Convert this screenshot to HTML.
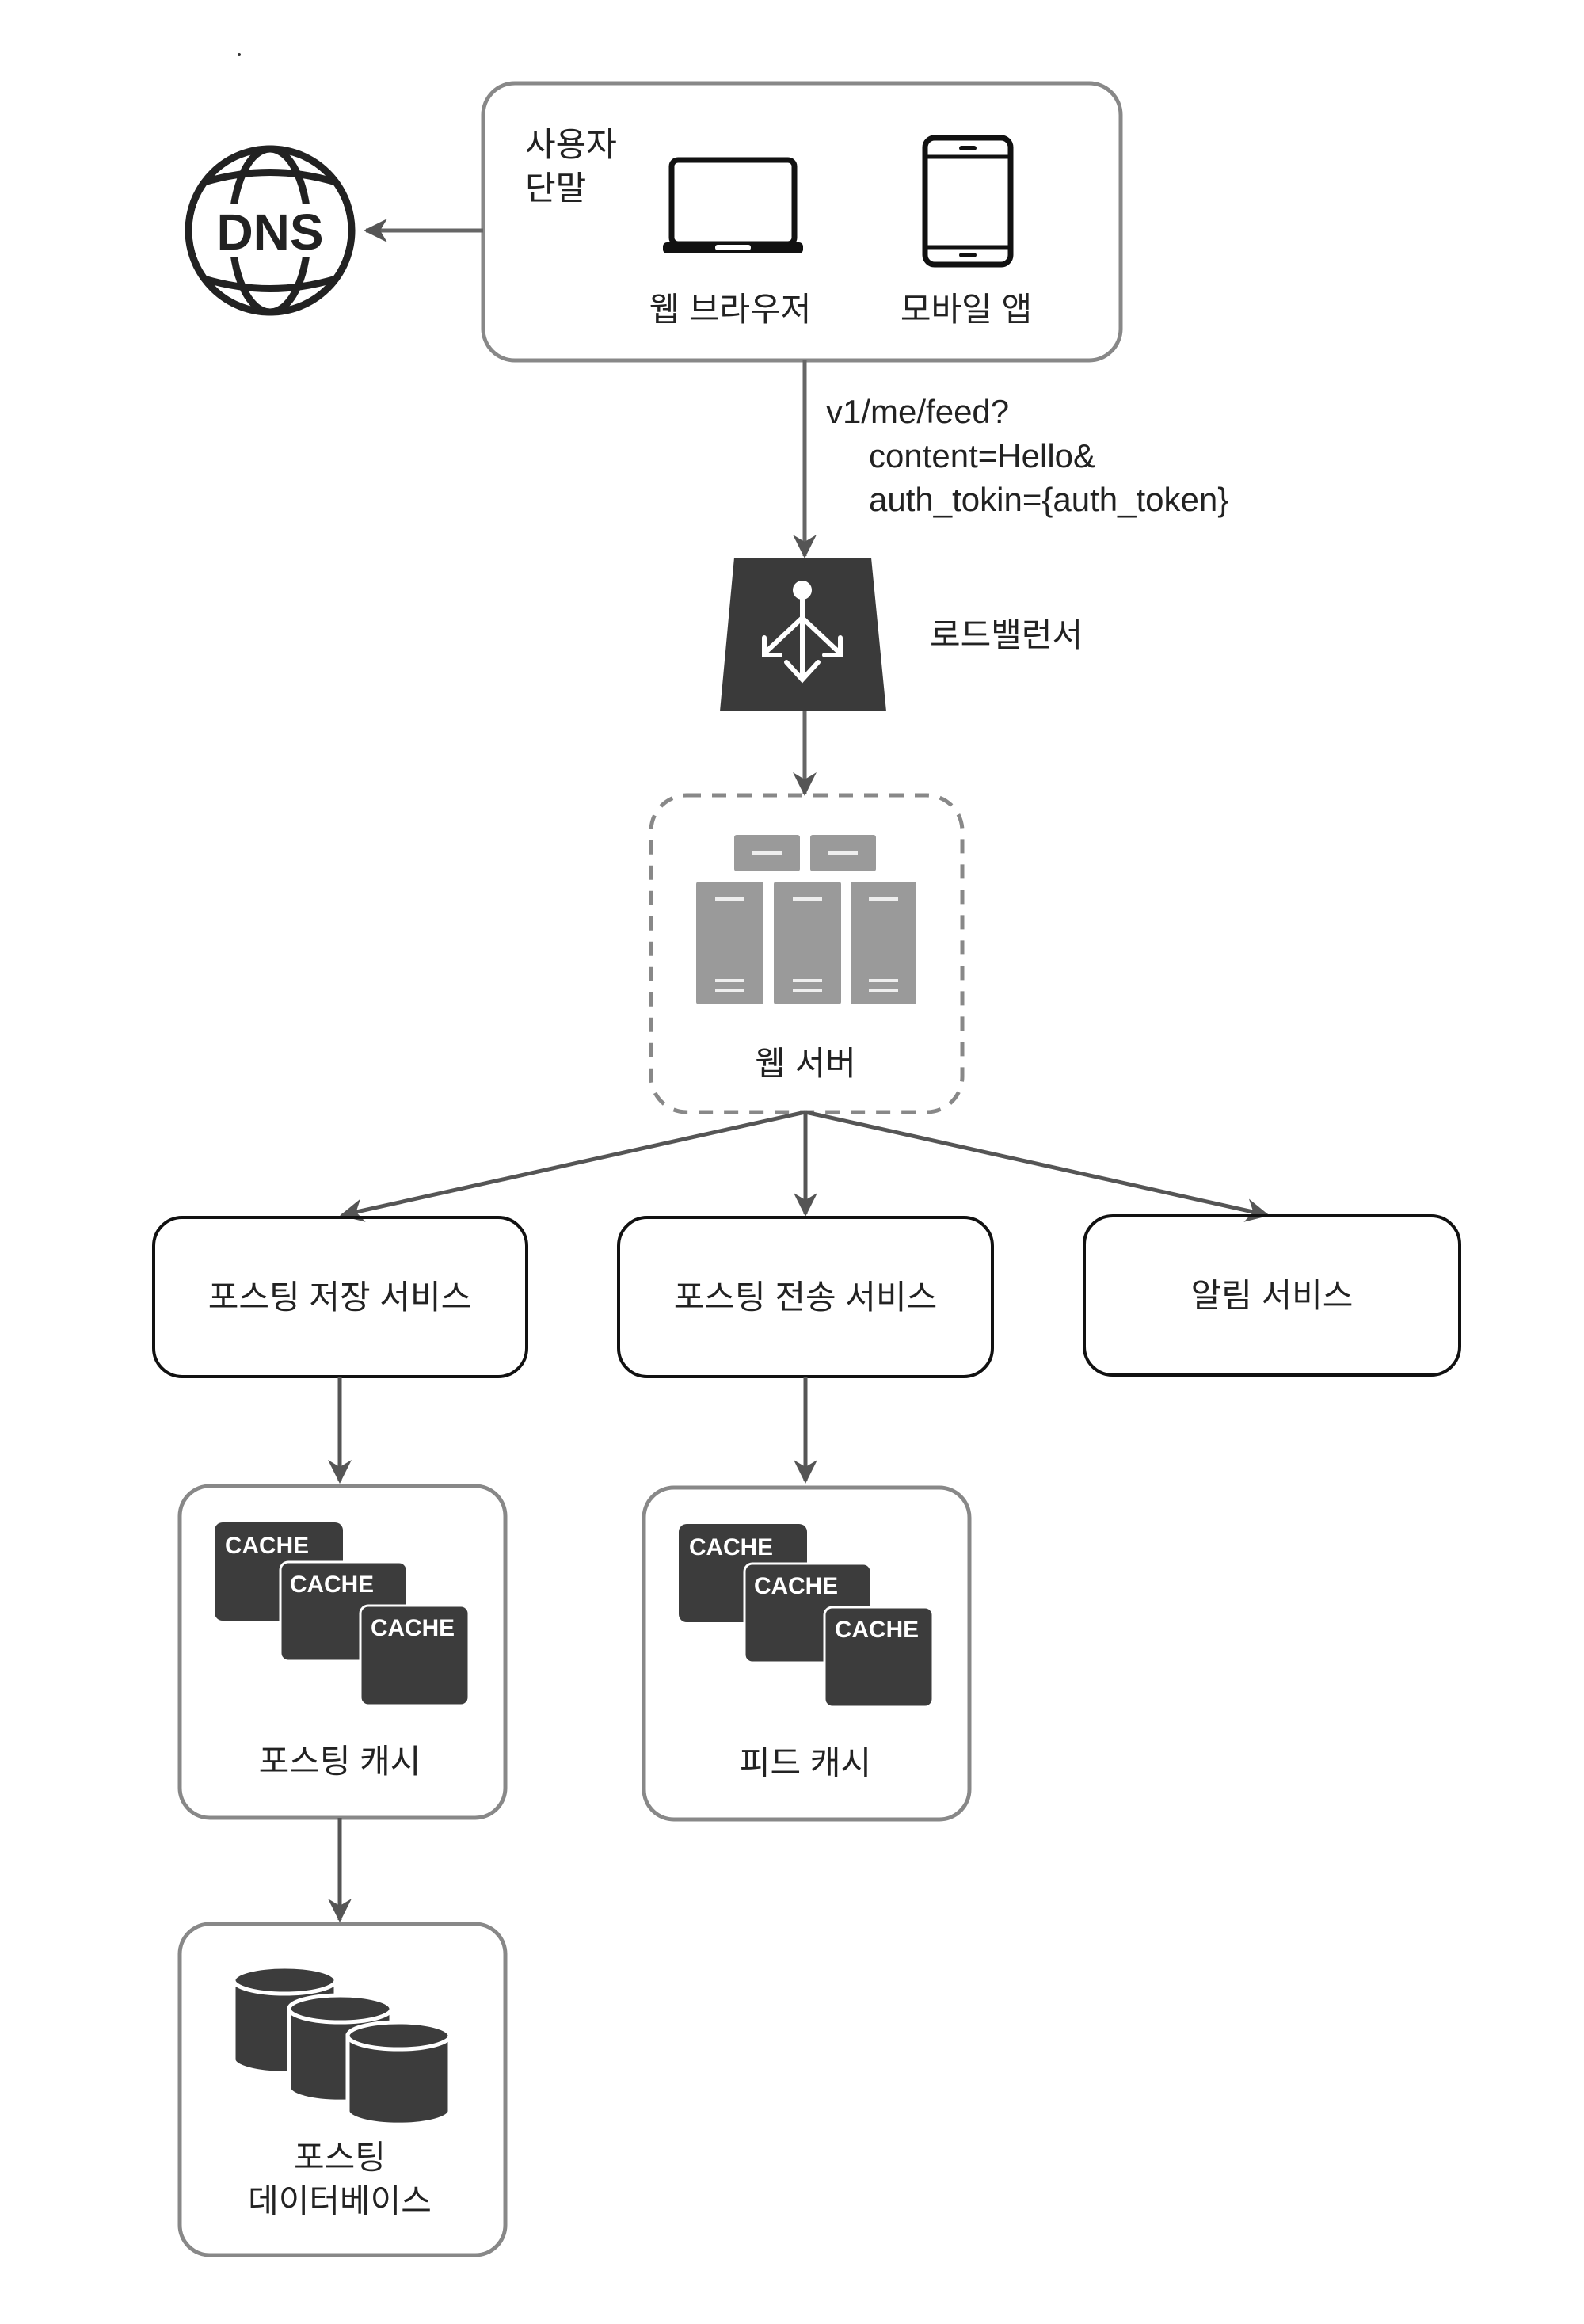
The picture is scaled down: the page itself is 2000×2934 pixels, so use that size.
<!DOCTYPE html>
<html><head><meta charset="utf-8"><style>
html,body{margin:0;padding:0;background:#fff}
svg{display:block}
text{font-family:"Liberation Sans","Noto Sans CJK KR",sans-serif;fill:#222}
</style></head><body>
<svg width="2000" height="2934" viewBox="0 0 2000 2934" xmlns="http://www.w3.org/2000/svg">
<defs>
<marker id="ah" viewBox="0 0 10 10" refX="9" refY="5" markerWidth="6" markerHeight="6" orient="auto" markerUnits="strokeWidth">
<path d="M0,0 L10,5 L0,10 L3,5 z" fill="#555"/></marker>
</defs>
<rect x="610" y="105" width="805" height="350" rx="40" fill="none" stroke="#888" stroke-width="5"/>
<text x="663" y="197" font-size="42">사용자</text>
<text x="663" y="252" font-size="42">단말</text>
<rect x="848" y="202" width="155" height="106" rx="8" fill="none" stroke="#111" stroke-width="7"/>
<rect x="837" y="306" width="177" height="14" rx="5" fill="#111"/>
<rect x="903" y="309" width="45" height="7" rx="3" fill="#fff"/>
<rect x="1168" y="174" width="108" height="160" rx="12" fill="none" stroke="#111" stroke-width="7"/>
<line x1="1168" y1="198" x2="1276" y2="198" stroke="#111" stroke-width="5"/>
<line x1="1168" y1="312" x2="1276" y2="312" stroke="#111" stroke-width="5"/>
<rect x="1211" y="184" width="22" height="6" rx="3" fill="#111"/>
<rect x="1211" y="319" width="22" height="6" rx="3" fill="#111"/>
<text x="922" y="405" font-size="42" text-anchor="middle">웹 브라우저</text>
<text x="1220" y="405" font-size="42" text-anchor="middle">모바일 앱</text>
<g stroke="#222" stroke-width="9" fill="none">
<circle cx="341" cy="291" r="103"/>
<ellipse cx="341" cy="291" rx="48" ry="103"/>
<path d="M258,230 Q341,205 424,230"/>
<path d="M258,352 Q341,377 424,352"/>
</g>
<rect x="248" y="258" width="186" height="66" fill="#fff"/>
<text x="341" y="315" font-size="64" font-weight="bold" text-anchor="middle" fill="#222">DNS</text>
<line x1="610" y1="291" x2="462" y2="291" stroke="#666" stroke-width="5" marker-end="url(#ah)"/>
<line x1="1016" y1="455" x2="1016" y2="702" stroke="#666" stroke-width="5" marker-end="url(#ah)"/>
<text x="1043" y="534" font-size="42">v1/me/feed?</text>
<text x="1097" y="590" font-size="42">content=Hello&amp;</text>
<text x="1097" y="645" font-size="42">auth_tokin={auth_token}</text>
<path d="M927,704 L1100,704 L1119,898 L909,898 Z" fill="#3a3a3a"/>
<g stroke="#fff" stroke-width="6" fill="none" stroke-linecap="round">
<circle cx="1013" cy="745" r="9" fill="#fff"/>
<path d="M1013,755 L1013,855 M993,836 L1013,858 L1033,836"/>
<path d="M1013,780 L965,825 M965,805 L965,827 L985,827"/>
<path d="M1013,780 L1061,825 M1061,805 L1061,827 L1041,827"/>
</g>
<text x="1174" y="816" font-size="42">로드밸런서</text>
<line x1="1016" y1="898" x2="1016" y2="1002" stroke="#666" stroke-width="5" marker-end="url(#ah)"/>
<rect x="822" y="1004" width="393" height="400" rx="45" fill="none" stroke="#888" stroke-width="5" stroke-dasharray="18,14"/>
<g fill="#9a9a9a">
<rect x="927" y="1054" width="83" height="46" rx="3"/>
<rect x="1023" y="1054" width="83" height="46" rx="3"/>
<rect x="879" y="1113" width="85" height="155" rx="3"/>
<rect x="977" y="1113" width="85" height="155" rx="3"/>
<rect x="1074" y="1113" width="83" height="155" rx="3"/>
</g>
<g stroke="#eee" stroke-width="4">
<line x1="950" y1="1077" x2="987" y2="1077"/><line x1="1046" y1="1077" x2="1083" y2="1077"/>
<line x1="903" y1="1135" x2="940" y2="1135"/><line x1="1001" y1="1135" x2="1038" y2="1135"/><line x1="1097" y1="1135" x2="1134" y2="1135"/>
<line x1="903" y1="1238" x2="940" y2="1238"/><line x1="1001" y1="1238" x2="1038" y2="1238"/><line x1="1097" y1="1238" x2="1134" y2="1238"/>
<line x1="903" y1="1250" x2="940" y2="1250"/><line x1="1001" y1="1250" x2="1038" y2="1250"/><line x1="1097" y1="1250" x2="1134" y2="1250"/>
</g>
<text x="1017" y="1357" font-size="42" text-anchor="middle">웹 서버</text>
<g stroke="#555" stroke-width="5" marker-end="url(#ah)">
<line x1="1017" y1="1404" x2="432" y2="1534"/>
<line x1="1017" y1="1404" x2="1017" y2="1533"/>
<line x1="1017" y1="1404" x2="1600" y2="1534"/>
</g>
<g fill="none" stroke="#111" stroke-width="4">
<rect x="194" y="1537" width="471" height="201" rx="36"/>
<rect x="781" y="1537" width="472" height="201" rx="36"/>
<rect x="1369" y="1535" width="474" height="201" rx="36"/>
</g>
<text x="429" y="1652" font-size="42" text-anchor="middle">포스팅 저장 서비스</text>
<text x="1017" y="1652" font-size="42" text-anchor="middle">포스팅 전송 서비스</text>
<text x="1606" y="1650" font-size="42" text-anchor="middle">알림 서비스</text>
<line x1="429" y1="1738" x2="429" y2="1870" stroke="#555" stroke-width="5" marker-end="url(#ah)"/>
<line x1="1017" y1="1738" x2="1017" y2="1870" stroke="#555" stroke-width="5" marker-end="url(#ah)"/>
<g>
<rect x="227" y="1876" width="411" height="419" rx="38" fill="none" stroke="#888" stroke-width="5"/>
<rect x="271" y="1922" width="162" height="124" rx="10" fill="#3c3c3c"/>
<rect x="354" y="1972" width="160" height="125" rx="10" fill="#3c3c3c" stroke="#fff" stroke-width="3"/>
<rect x="455" y="2027" width="137" height="126" rx="10" fill="#3c3c3c" stroke="#fff" stroke-width="3"/>
<text x="284" y="1961" font-size="30" font-weight="bold" textLength="106" lengthAdjust="spacingAndGlyphs" style="fill:#fff">CACHE</text>
<text x="366" y="2010" font-size="30" font-weight="bold" textLength="106" lengthAdjust="spacingAndGlyphs" style="fill:#fff">CACHE</text>
<text x="468" y="2065" font-size="30" font-weight="bold" textLength="106" lengthAdjust="spacingAndGlyphs" style="fill:#fff">CACHE</text>
</g>
<text x="429" y="2238" font-size="42" text-anchor="middle">포스팅 캐시</text>
<g transform="translate(586,2)">
<rect x="227" y="1876" width="411" height="419" rx="38" fill="none" stroke="#888" stroke-width="5"/>
<rect x="271" y="1922" width="162" height="124" rx="10" fill="#3c3c3c"/>
<rect x="354" y="1972" width="160" height="125" rx="10" fill="#3c3c3c" stroke="#fff" stroke-width="3"/>
<rect x="455" y="2027" width="137" height="126" rx="10" fill="#3c3c3c" stroke="#fff" stroke-width="3"/>
<text x="284" y="1961" font-size="30" font-weight="bold" textLength="106" lengthAdjust="spacingAndGlyphs" style="fill:#fff">CACHE</text>
<text x="366" y="2010" font-size="30" font-weight="bold" textLength="106" lengthAdjust="spacingAndGlyphs" style="fill:#fff">CACHE</text>
<text x="468" y="2065" font-size="30" font-weight="bold" textLength="106" lengthAdjust="spacingAndGlyphs" style="fill:#fff">CACHE</text>
</g>
<text x="1017" y="2240" font-size="42" text-anchor="middle">피드 캐시</text>
<line x1="429" y1="2295" x2="429" y2="2424" stroke="#555" stroke-width="5" marker-end="url(#ah)"/>
<rect x="227" y="2429" width="411" height="418" rx="38" fill="none" stroke="#888" stroke-width="5"/>
<g fill="#3c3c3c" stroke="#fff" stroke-width="5">
<path d="M295,2500 L295,2600 A64,17 0 0 0 424,2600 L424,2500 Z"/><ellipse cx="359.5" cy="2500" rx="64.5" ry="17"/>
<path d="M365,2536 L365,2636 A64,17 0 0 0 494,2636 L494,2536 Z"/><ellipse cx="429.5" cy="2536" rx="64.5" ry="17"/>
<path d="M439,2570 L439,2665 A64,17 0 0 0 568,2665 L568,2570 Z"/><ellipse cx="503.5" cy="2570" rx="64.5" ry="17"/>
</g>
<text x="429" y="2738" font-size="42" text-anchor="middle">포스팅</text>
<text x="429" y="2793" font-size="42" text-anchor="middle">데이터베이스</text>
<circle cx="302" cy="69" r="2" fill="#333"/>
</svg>
</body></html>
